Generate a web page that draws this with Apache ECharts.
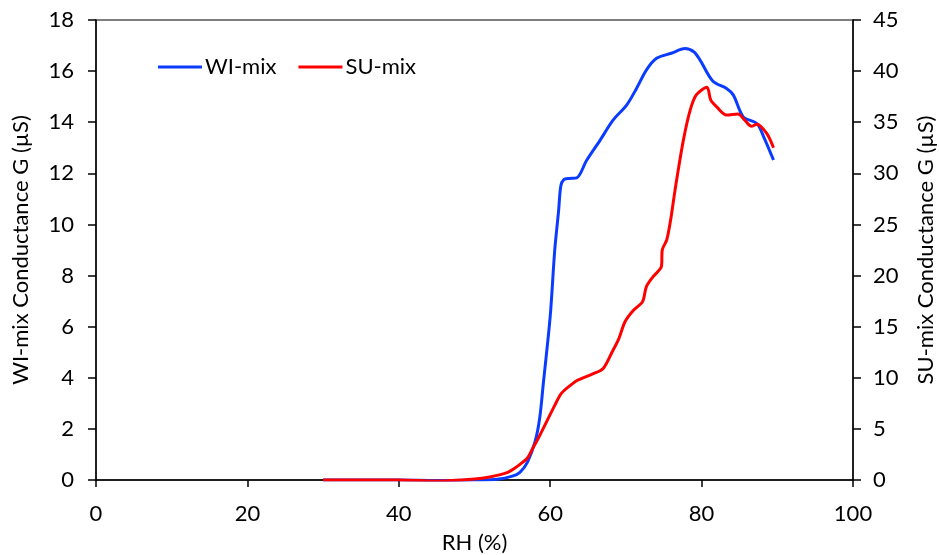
<!DOCTYPE html>
<html>
<head>
<meta charset="utf-8">
<script src="https://cdn.jsdelivr.net/npm/echarts@6/dist/echarts.min.js"></script>
<style>html,body{margin:0;padding:0;background:#fff;}#c{width:940px;height:555px;}</style>
</head>
<body>
<div id="c"></div>
<script>
var xTicks = [0, 20, 40, 60, 80, 100];
var leftTicks = [0, 2, 4, 6, 8, 10, 12, 14, 16, 18];
var rightTicks = [0, 5, 10, 15, 20, 25, 30, 35, 40, 45];

var wiRH = [30, 35, 40, 45, 50, 53, 55, 56, 57, 58, 58.6, 59.1, 60, 60.6, 61.1, 61.4, 61.8, 62.5, 63.5, 64.8, 66.6, 68.3, 70.1, 71.4, 72.7, 74.05, 76, 77.8, 79, 79.8, 81.5, 83.3, 84.2, 85.5, 87.3, 88.2, 89.5];
var wiG = [0, 0, 0, -0.02, 0, 0.03, 0.15, 0.3, 0.7, 1.5, 2.4, 3.8, 6.4, 9.0, 10.5, 11.5, 11.75, 11.8, 11.82, 12.5, 13.3, 14.08, 14.67, 15.32, 16.04, 16.5, 16.7, 16.88, 16.75, 16.43, 15.6, 15.32, 15.06, 14.21, 13.95, 13.43, 12.52];

var suRH = [30, 35, 40, 45, 50, 52, 54.2, 55.3, 56.3, 57.0, 57.55, 58.65, 60.6, 61.5, 63, 63.7, 65.7, 67, 68.3, 69, 69.9, 71, 72.2, 72.7, 73.6, 74.7, 74.8, 75.4, 75.9, 76.3, 76.7, 77.6, 78.5, 79.3, 80.7, 81.2, 82, 83.3, 84.8, 85.7, 86.6, 87.3, 88.6, 89.5];
var suG = [0, 0, 0, -0.1, 0.1, 0.3, 0.7, 1.15, 1.7, 2.15, 2.9, 4.4, 7.3, 8.5, 9.46, 9.8, 10.4, 10.9, 12.7, 13.7, 15.5, 16.6, 17.45, 18.9, 19.9, 20.9, 22.5, 23.5, 25.4, 27.4, 29.35, 33.27, 36.2, 37.67, 38.42, 37.18, 36.5, 35.7, 35.8, 35.2, 34.6, 34.8, 33.9, 32.5];

function pairs(xs, ys) { return xs.map(function (x, i) { return [x, ys[i]]; }); }

var FONT = 'Lato';
var FS = 22;
var chart = echarts.init(document.getElementById('c'), null, { renderer: 'canvas' });
chart.setOption({
  backgroundColor: '#fff',
  animation: false,
  textStyle: { fontFamily: FONT, color: '#000' },
  grid: { left: 96, right: 87, top: 20, bottom: 75, containLabel: false, outerBoundsMode: 'none', show: true, borderColor: '#555', borderWidth: 1.5, backgroundColor: 'transparent' },
  legend: {
    left: 153, top: 51, itemGap: 22, itemWidth: 44, itemHeight: 3, icon: 'rect',
    textStyle: { fontFamily: FONT, fontSize: FS, color: '#000', padding: [0, 0, 0, -2] },
    data: ['WI-mix', 'SU-mix']
  },
  xAxis: {
    type: 'value', min: xTicks[0], max: xTicks[xTicks.length - 1], interval: 20,
    name: 'RH (%)', nameLocation: 'middle', nameGap: 52,
    nameTextStyle: { fontFamily: FONT, fontSize: FS, color: '#000' },
    axisLine: { show: true, onZero: false, lineStyle: { color: '#000', width: 1.5 } },
    axisTick: { show: true, length: 7, lineStyle: { color: '#000', width: 1.5 } },
    axisLabel: { fontFamily: FONT, fontSize: FS, color: '#000', margin: 23 },
    splitLine: { show: false }
  },
  yAxis: [{
    type: 'value', position: 'left', min: leftTicks[0], max: leftTicks[leftTicks.length - 1], interval: 2,
    name: 'WI-mix Conductance G (µS)', nameLocation: 'middle', nameGap: 64, nameRotate: 90,
    nameTextStyle: { fontFamily: FONT, fontSize: FS, color: '#000' },
    axisLine: { show: true, lineStyle: { color: '#000', width: 1.5 } },
    axisTick: { show: true, length: 8, lineStyle: { color: '#000', width: 1.5 } },
    axisLabel: { fontFamily: FONT, fontSize: FS, color: '#000', margin: 22 },
    splitLine: { show: false }
  }, {
    type: 'value', position: 'right', min: rightTicks[0], max: rightTicks[rightTicks.length - 1], interval: 5,
    name: 'SU-mix Conductance G (µS)', nameLocation: 'middle', nameGap: 62, nameRotate: 90,
    nameTextStyle: { fontFamily: FONT, fontSize: FS, color: '#000' },
    axisLine: { show: true, lineStyle: { color: '#000', width: 1.5 } },
    axisTick: { show: true, length: 8, lineStyle: { color: '#000', width: 1.5 } },
    axisLabel: { fontFamily: FONT, fontSize: FS, color: '#000', margin: 20 },
    splitLine: { show: false }
  }],
  series: [{
    name: 'WI-mix', type: 'line', yAxisIndex: 0, data: pairs(wiRH, wiG),
    showSymbol: false, smooth: 0.3, color: '#0A3CFF',
    lineStyle: { color: '#0A3CFF', width: 3 }
  }, {
    name: 'SU-mix', type: 'line', yAxisIndex: 1, data: pairs(suRH, suG),
    showSymbol: false, smooth: 0.3, color: '#FF0000',
    lineStyle: { color: '#FF0000', width: 3 }
  }]
});
</script>
</body>
</html>
